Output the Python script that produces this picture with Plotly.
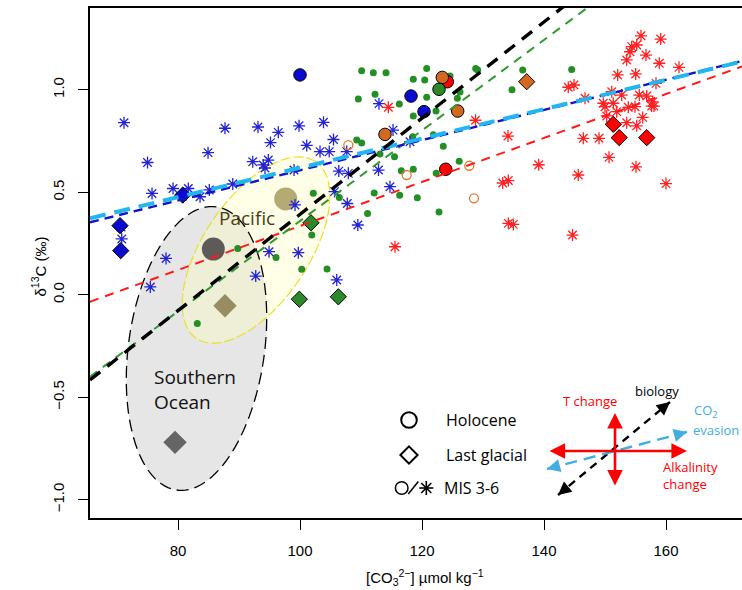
import numpy as np
import plotly.graph_objects as go

# ---------------- layout geometry ----------------
W, H = 742, 590
M_L, M_R, M_T, M_B = 90, 0, 8, 72
X_RANGE = [65.57, 172.46]
Y_RANGE = [-1.089, 1.3985]
PW = W - M_L - M_R
PH = H - M_T - M_B
PX_X = PW / (X_RANGE[1] - X_RANGE[0])
PX_Y = PH / (Y_RANGE[1] - Y_RANGE[0])

def px(xp):
    return (xp - M_L) / PW

def py(yp):
    return (H - M_B - yp) / PH

# ---------------- data ----------------
green_x = [110.11, 112.02, 114.10, 120.77, 118.57, 120.44, 112.30, 109.56, 116.28, 120.77,
           118.57, 122.30, 126.23, 125.79, 128.80, 129.13, 136.51, 134.75, 144.54, 109.30,
           110.11, 113.11, 115.49, 123.49, 121.85, 116.61, 118.57, 126.10, 122.33, 112.16,
           116.34, 122.79, 111.07, 106.44, 124.59, 118.48, 102.18, 101.93, 89.79, 96.07,
           100.28, 104.43, 83.16, 119.23]
green_y = [1.093, 1.083, 1.083, 1.104, 1.051, 1.047, 0.978, 0.955, 0.930, 0.963,
           0.872, 0.896, 0.989, 0.958, 1.104, 1.096, 1.096, 1.000, 1.098, 0.755,
           0.740, 0.686, 0.673, 0.724, 0.780, 0.605, 0.612, 0.651, 0.592, 0.496,
           0.485, 0.404, 0.396, 0.474, 1.067, 0.771, 0.495, 0.291, 0.226, 0.182,
           0.124, 0.126, -0.140, 0.473]

blue_star_x = [71.15, 75.00, 75.74, 79.18, 81.69, 80.77, 83.61, 85.13, 87.70, 84.92,
               88.97, 92.25, 93.11, 95.16, 96.44, 93.98, 94.80, 94.26, 99.84, 101.10,
               103.85, 103.28, 104.79, 105.49, 99.02, 106.36, 105.66, 99.18, 94.92, 99.72,
               92.74, 78.03, 75.46, 106.02, 70.77, 70.66, 107.66, 107.92, 112.87, 115.25,
               112.95, 107.75, 114.75, 109.48, 118.03]
blue_star_y = [0.839, 0.645, 0.494, 0.518, 0.518, 0.481, 0.478, 0.511, 0.812, 0.693,
               0.540, 0.649, 0.818, 0.742, 0.792, 0.633, 0.657, 0.618, 0.824, 0.728,
               0.841, 0.698, 0.698, 0.757, 0.608, 0.603, 0.503, 0.438, 0.210, 0.205,
               0.091, 0.177, 0.038, 0.072, 0.272, 0.330, 0.698, 0.592, 0.608, 0.803,
               0.932, 0.445, 0.527, 0.340, 0.746]

red_star_x = [114.48, 128.77, 134.10, 139.13, 133.23, 134.15, 143.98, 144.92, 145.62, 134.15,
              134.97, 144.67, 115.57, 146.72, 146.44, 149.02, 150.66, 155.08, 160.00, 155.90,
              159.13, 154.38, 155.20, 154.10, 153.56, 156.72, 158.90, 162.13, 152.08, 155.03,
              158.36, 151.10, 152.74, 149.72, 150.00, 151.36, 155.62, 156.84, 157.82, 158.03,
              157.65, 153.82, 154.92, 151.92, 150.28, 156.18, 153.56, 155.20]
red_star_y = [0.914, 0.851, 0.774, 0.634, 0.545, 0.557, 1.012, 1.023, 0.584, 0.348,
              0.343, 0.291, 0.234, 0.958, 0.763, 0.763, 0.670, 0.624, 0.542, 1.263,
              1.247, 1.210, 1.218, 1.185, 1.145, 1.169, 1.129, 1.109, 1.072, 1.077,
              1.031, 0.990, 0.974, 0.934, 0.917, 0.934, 0.974, 0.969, 0.941, 0.920,
              0.920, 0.914, 0.917, 0.893, 0.872, 0.865, 0.839, 0.824]

mis_open_x = [107.92, 117.49, 127.75, 128.52]
mis_open_y = [0.730, 0.584, 0.629, 0.470]

# Holocene (circles)
hol_blue_x, hol_blue_y = [100.00, 118.20, 120.33], [1.072, 0.969, 0.893]
hol_red_x, hol_red_y = [123.89, 124.15], [0.612, 1.039]
hol_orange_x, hol_orange_y = [113.93, 123.33, 125.85], [0.782, 1.060, 0.896]
hol_green_x, hol_green_y = [122.79], [1.002]

# Last glacial (diamonds)
lgm_blue_x, lgm_blue_y = [70.49, 70.61, 80.77], [0.337, 0.215, 0.486]
lgm_green_x, lgm_green_y = [101.80, 99.89, 106.28], [0.351, -0.022, -0.010]
lgm_orange_x, lgm_orange_y = [137.16], [1.039]
lgm_red_x, lgm_red_y = [151.36, 152.34, 156.84], [0.831, 0.766, 0.766]

# Regional means
so_hol = (85.79, 0.223)
so_lgm = (79.51, -0.720)
pac_hol = (97.66, 0.467)
pac_lgm = (87.70, -0.054)

# Regression lines: (intercept, slope)
fit_names = ["red", "green", "darkblue", "lightblue", "black"]
fit_intercepts = [-0.7376, -1.847, -0.129, -0.096, -1.954]
fit_slopes = [0.01073, 0.02207, 0.00736, 0.00715, 0.02346]
fit_colors = ["#ff1a1a", "#2e9a2e", "#1212c8", "#1fb6f2", "#000000"]
fit_widths = [2.0, 2.0, 2.4, 4.0, 3.4]
fit_dashes = ["9px,7px", "9px,7px", "9px,6px", "16px,9px", "13px,9px"]

# Ellipses (centre in data units, semi-axes in pixels, angle in degrees)
so_ell = dict(cx=83.03, cy=-0.262, a=143, b=68, ang=82)
pac_ell = dict(cx=92.79, cy=0.218, a=106.6, b=52.5, ang=56)


def ellipse_path(e, n=120):
    t = np.linspace(0, 2 * np.pi, n)
    th = np.deg2rad(e["ang"])
    dx = e["a"] * np.cos(th) * np.cos(t) - e["b"] * np.sin(th) * np.sin(t)
    dy = e["a"] * np.sin(th) * np.cos(t) + e["b"] * np.cos(th) * np.sin(t)
    xs = e["cx"] + dx / PX_X
    ys = e["cy"] + dy / PX_Y
    return "M" + " L".join(f"{x:.4f},{y:.4f}" for x, y in zip(xs, ys)) + " Z"


fig = go.Figure()

# regional mean markers
fig.add_trace(go.Scatter(x=[so_hol[0]], y=[so_hol[1]], mode="markers",
                         marker=dict(symbol="circle", size=23, color="#5e5a58")))
fig.add_trace(go.Scatter(x=[so_lgm[0]], y=[so_lgm[1]], mode="markers",
                         marker=dict(symbol="diamond", size=18, color="#666464")))
fig.add_trace(go.Scatter(x=[pac_hol[0]], y=[pac_hol[1]], mode="markers",
                         marker=dict(symbol="circle", size=23, color="#b5aa72")))
fig.add_trace(go.Scatter(x=[pac_lgm[0]], y=[pac_lgm[1]], mode="markers",
                         marker=dict(symbol="diamond", size=18, color="#978c62")))

# small data
fig.add_trace(go.Scatter(x=green_x, y=green_y, mode="markers",
                         marker=dict(symbol="circle", size=7, color="#248f24")))
fig.add_trace(go.Scatter(x=blue_star_x, y=blue_star_y, mode="markers",
                         marker=dict(symbol="asterisk-open", size=10, color="#2424d4",
                                     line=dict(color="#2424d4", width=1.3))))
fig.add_trace(go.Scatter(x=red_star_x, y=red_star_y, mode="markers",
                         marker=dict(symbol="asterisk-open", size=10, color="#ff2222",
                                     line=dict(color="#ff2222", width=1.3))))
fig.add_trace(go.Scatter(x=mis_open_x, y=mis_open_y, mode="markers",
                         marker=dict(symbol="circle-open", size=9, color="#e07a2e",
                                     line=dict(color="#e07a2e", width=1.3))))

# Holocene / LGM markers
def big(xs, ys, sym, col, size):
    fig.add_trace(go.Scatter(x=xs, y=ys, mode="markers",
                             marker=dict(symbol=sym, size=size, color=col,
                                         line=dict(color="black", width=1))))

big(lgm_blue_x, lgm_blue_y, "diamond", "#0a0ad0", 12.5)
big(lgm_green_x, lgm_green_y, "diamond", "#2a8a2a", 12.5)
big(lgm_orange_x, lgm_orange_y, "diamond", "#d2691e", 12.5)
big(lgm_red_x, lgm_red_y, "diamond", "#ff0000", 12.5)
big(hol_red_x, hol_red_y, "circle", "#ff0000", 12.5)
big(hol_orange_x, hol_orange_y, "circle", "#d2691e", 12.5)
big(hol_green_x, hol_green_y, "circle", "#2a8a2a", 12.5)
big(hol_blue_x, hol_blue_y, "circle", "#0a0ad0", 12.5)

# regression lines
for a, b, c, w, d in zip(fit_intercepts, fit_slopes, fit_colors, fit_widths, fit_dashes):
    xs = np.array(X_RANGE)
    fig.add_trace(go.Scatter(x=xs, y=a + b * xs, mode="lines",
                             line=dict(color=c, width=w, dash=d)))

shapes = []
# ellipses
shapes.append(dict(type="path", path=ellipse_path(so_ell), xref="x", yref="y", layer="below",
                   fillcolor="#e6e6e6", line=dict(width=0)))
shapes.append(dict(type="path", path=ellipse_path(pac_ell), xref="x", yref="y", layer="below",
                   fillcolor="rgba(255,252,190,0.38)",
                   line=dict(color="#e8e02a", width=1.2, dash="10px,3px")))
shapes.append(dict(type="path", path=ellipse_path(so_ell), xref="x", yref="y", layer="below",
                   fillcolor="rgba(0,0,0,0)", line=dict(color="black", width=1.3, dash="12px,6px")))

# legend glyphs (bottom right)
def circ(cx, cy, r, lw):
    shapes.append(dict(type="circle", xref="paper", yref="paper",
                       x0=px(cx - r), x1=px(cx + r), y0=py(cy + r), y1=py(cy - r),
                       line=dict(color="black", width=lw)))

circ(409, 420, 7.8, 2)
circ(401.7, 488, 6.3, 1.5)
dm = 8.6
shapes.append(dict(type="path", xref="paper", yref="paper",
                   path=f"M{px(409)},{py(455-dm)} L{px(409+dm)},{py(455)} L{px(409)},{py(455+dm)} L{px(409-dm)},{py(455)} Z",
                   line=dict(color="black", width=2)))
shapes.append(dict(type="line", xref="paper", yref="paper", x0=px(408.3), y0=py(494), x1=px(418.3), y1=py(481.5),
                   line=dict(color="black", width=1.5)))
ac, ar = (426.3, 488), 7
for dx, dy in [(ar, 0), (0, ar), (ar * 0.72, ar * 0.72), (ar * 0.72, -ar * 0.72)]:
    shapes.append(dict(type="line", xref="paper", yref="paper",
                       x0=px(ac[0] - dx), y0=py(ac[1] - dy), x1=px(ac[0] + dx), y1=py(ac[1] + dy),
                       line=dict(color="black", width=1.6)))

# inset dashed arrows (shafts)
shapes.append(dict(type="line", xref="paper", yref="paper", x0=px(558), y0=py(495), x1=px(670), y1=py(402),
                   line=dict(color="black", width=2.4, dash="8px,6px")))
shapes.append(dict(type="line", xref="paper", yref="paper", x0=px(547), y0=py(469), x1=px(687), y1=py(432),
                   line=dict(color="#41ade2", width=2.4, dash="12px,7px")))

annotations = []

def arrow(x1, y1, x0, y0, color, width, both=False, size=1.2):
    annotations.append(dict(x=px(x1), y=py(y1), xref="paper", yref="paper", text="",
                            showarrow=True, ax=x0 - x1, ay=y0 - y1, axref="pixel", ayref="pixel",
                            arrowhead=2, arrowsize=size, arrowwidth=width, arrowcolor=color,
                            arrowside="end+start" if both else "end", standoff=0, startstandoff=0))

arrow(687, 451, 548, 451, "#ff0000", 2.6, both=True)
arrow(615, 413, 615, 487, "#ff0000", 2.6, both=True)

def head(xh, yh, xt, yt, color):
    v = np.array([xt - xh, yt - yh], dtype=float)
    v = v / np.hypot(*v) * 12
    arrow(xh, yh, xh + v[0], yh + v[1], color, 2.4, size=1.1)

head(670, 402, 558, 495, "black")
head(558, 495, 670, 402, "black")
head(687, 432, 547, 469, "#41ade2")
head(547, 469, 687, 432, "#41ade2")

def label(text, x, y, size, color, xanchor="center", font="Open Sans", align="center"):
    annotations.append(dict(x=px(x), y=py(y), xref="paper", yref="paper", text=text,
                            showarrow=False, xanchor=xanchor, yanchor="middle", align=align,
                            font=dict(family=font, size=size, color=color)))

label("Pacific", 247, 218, 19, "#4b3f14")
label("Southern<br>Ocean", 152, 389, 19, "#111111", xanchor="left", align="left")
label("Holocene", 444, 420, 16, "black", xanchor="left")
label("Last glacial", 444, 455, 16, "black", xanchor="left")
label("MIS 3-6", 442, 488, 16, "black", xanchor="left")
label("T change", 590, 401, 13, "#ff0000")
label("biology", 657, 391, 13, "black")
label("CO<sub>2</sub>", 692, 411, 13, "#41ade2", xanchor="left")
label("evasion", 691, 430, 13, "#41ade2", xanchor="left")
label("Alkalinity<br>change", 661, 475, 13, "#ff0000", xanchor="left", align="left")

# axis titles
label("[CO<sub>3</sub><sup>2−</sup>] µmol kg<sup>−1</sup>", 425, 577, 15, "black", font="Liberation Sans")
annotations.append(dict(x=px(27), y=py(267), xref="paper", yref="paper",
                        text="δ<sup>13</sup>C (‰)", textangle=-90, showarrow=False,
                        font=dict(family="Liberation Sans", size=15, color="black")))

fig.update_layout(
    width=W, height=H,
    margin=dict(l=M_L, r=M_R, t=M_T, b=M_B),
    plot_bgcolor="white", paper_bgcolor="white",
    showlegend=False,
    shapes=shapes, annotations=annotations,
    xaxis=dict(range=X_RANGE, tickvals=[80, 100, 120, 140, 160], ticks="outside", ticklen=10,
               tickwidth=1, tickcolor="black", showline=True, linecolor="black", linewidth=2,
               mirror=True, showgrid=False, zeroline=False, ticklabelstandoff=8,
               tickfont=dict(family="Liberation Sans", size=15, color="black")),
    yaxis=dict(range=Y_RANGE, tickvals=[-1, -0.5, 0, 0.5, 1],
               ticktext=["−1.0", "−0.5", "0.0", "0.5", "1.0"], tickangle=-90,
               ticks="outside", ticklen=10, tickwidth=1, tickcolor="black",
               showline=True, linecolor="black", linewidth=2, showgrid=False, zeroline=False,
               ticklabelstandoff=8,
               tickfont=dict(family="Liberation Sans", size=15, color="black")),
)

fig.write_html("out.html")
